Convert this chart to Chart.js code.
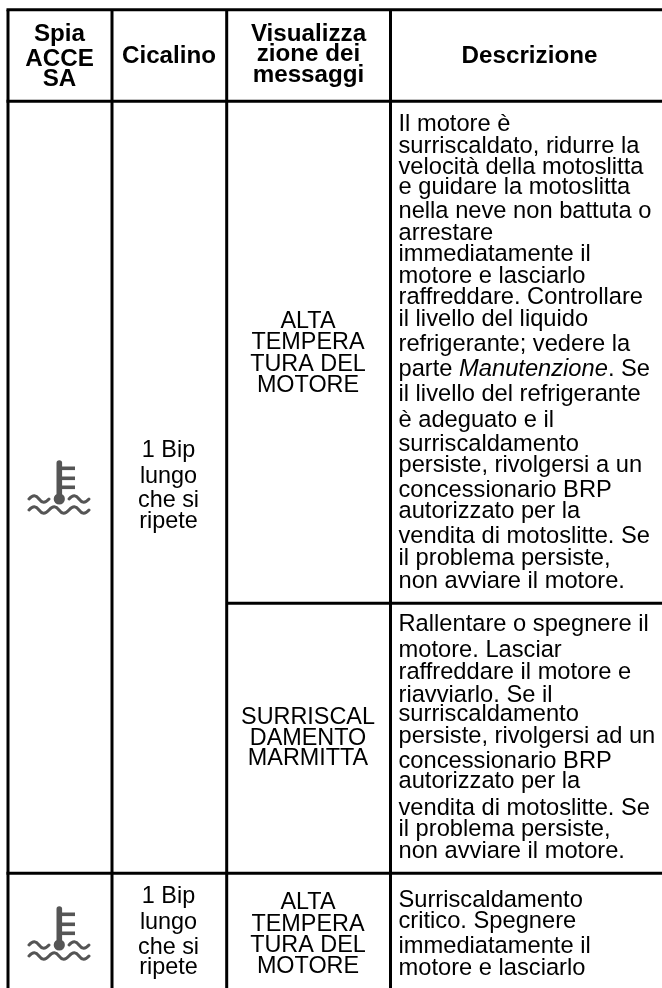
<!DOCTYPE html>
<html>
<head>
<meta charset="utf-8">
<title>Spia</title>
<script src="https://cdn.jsdelivr.net/npm/chart.js@4"></script>
<style>
body { margin: 0; background: #fff; }
canvas { display: block; }
</style>
</head>
<body>
<canvas id="myChart" width="662" height="988"></canvas>
<script>
// table text, one entry per printed line (*...* = italic)
const headSpia = ["Spia", "ACCE", "SA"];
const headCicalino = ["Cicalino"];
const headVisual = ["Visualizza", "zione dei", "messaggi"];
const headDescr = ["Descrizione"];
const bipLines = ["1 Bip", "lungo", "che si", "ripete"];
const altaLines = ["ALTA", "TEMPERA", "TURA DEL", "MOTORE"];
const marmittaLines = ["SURRISCAL", "DAMENTO", "MARMITTA"];
const descAlta = [
    "Il motore è", "surriscaldato, ridurre la", "velocità della motoslitta",
    "e guidare la motoslitta", "nella neve non battuta o", "arrestare",
    "immediatamente il", "motore e lasciarlo", "raffreddare. Controllare",
    "il livello del liquido", "refrigerante; vedere la", "parte *Manutenzione*. Se",
    "il livello del refrigerante", "è adeguato e il", "surriscaldamento",
    "persiste, rivolgersi a un", "concessionario BRP", "autorizzato per la",
    "vendita di motoslitte. Se", "il problema persiste,", "non avviare il motore.",
];
const descMarmitta = [
    "Rallentare o spegnere il", "motore. Lasciar", "raffreddare il motore e",
    "riavviarlo. Se il", "surriscaldamento", "persiste, rivolgersi ad un",
    "concessionario BRP", "autorizzato per la", "vendita di motoslitte. Se",
    "il problema persiste,", "non avviare il motore.",
];
const descCritico = [
    "Surriscaldamento", "critico. Spegnere", "immediatamente il", "motore e lasciarlo",
];

// layout, in picture pixels
const colX = [8, 112, 226.7, 390.5];
const rowY = [9.7, 101.3, 603.3, 873.3];
const pageW = 662;
const pageH = 988;
const descX = 398.5;
const blocks = [
    { lines: headSpia, x: 59.5, bold: true, y: [41, 66, 86] },
    { lines: headCicalino, x: 169, bold: true, y: [63] },
    { lines: headVisual, x: 308.5, bold: true, y: [41, 61, 82] },
    { lines: headDescr, x: 529.5, bold: true, y: [63] },
    { lines: bipLines, x: 168.5, y: [457, 483, 507, 528] },
    { lines: altaLines, x: 308, y: [328, 349, 371, 392] },
    { lines: marmittaLines, x: 308, y: [724, 745, 765] },
    { lines: bipLines, x: 168.5, y: [903, 929, 954, 974] },
    { lines: altaLines, x: 308, y: [909, 931, 952, 973] },
    { lines: descAlta, x: descX, left: true, y: [131, 153, 174, 194, 218, 240, 261, 283, 304, 326, 351, 376, 401, 427, 451, 472, 497, 518, 543, 565, 588] },
    { lines: descMarmitta, x: descX, left: true, y: [631, 657, 679, 702, 721, 743, 768, 788, 815, 836, 858] },
    { lines: descCritico, x: descX, left: true, y: [907, 928, 953, 975] },
];

function thermoIcon() {
    const c = document.createElement("canvas");
    c.width = 66;
    c.height = 56;
    const g = c.getContext("2d");
    g.strokeStyle = g.fillStyle = "#555";
    g.lineCap = "round";
    g.lineWidth = 5.6;
    g.beginPath(); g.moveTo(32.3, 4); g.lineTo(32.3, 38); g.stroke();
    g.lineCap = "butt";
    g.lineWidth = 3.6;
    [9.3, 19.3, 28.3].forEach((y) => {
        g.beginPath(); g.moveTo(32.3, y); g.lineTo(48, y); g.stroke();
    });
    g.beginPath(); g.arc(32.3, 40, 5.6, 0, Math.PI * 2); g.fill();
    g.lineCap = "round";
    g.lineWidth = 3;
    const wave = (x0, n, y) => {
        g.beginPath();
        g.moveTo(x0, y);
        for (let i = 0; i < n; i++) {
            const x = x0 + i * 20;
            g.bezierCurveTo(x + 4, y - 4.5, x + 7, y - 4, x + 10, y);
            g.bezierCurveTo(x + 13, y + 4, x + 16, y + 4.5, x + 20, y);
        }
        g.stroke();
    };
    wave(2, 1, 40);
    wave(42, 1, 40);
    wave(2, 3, 51);
    return c;
}

function rule(x1, y1, x2, y2) {
    return {
        type: "scatter",
        showLine: true,
        data: [{ x: x1, y: y1 }, { x: x2, y: y2 }],
        borderColor: "#000",
        borderWidth: 3,
        pointRadius: 0,
        clip: false,
    };
}

const rules = [
    rule(colX[0] - 1.5, rowY[0], pageW, rowY[0]),
    rule(colX[0] - 1.5, rowY[1], pageW, rowY[1]),
    rule(colX[2], rowY[2], pageW, rowY[2]),
    rule(colX[0] - 1.5, rowY[3], pageW, rowY[3]),
    ...colX.map((x) => rule(x, rowY[0], x, pageH)),
];

const cellText = {
    id: "cellText",
    afterDatasetsDraw(chart) {
        const { ctx, scales } = chart;
        ctx.save();
        ctx.fillStyle = "#000";
        ctx.textBaseline = "alphabetic";
        blocks.forEach((b) => {
            b.lines.forEach((line, i) => {
                const y = scales.y.getPixelForValue(b.y[i]);
                const parts = line.split("*");
                const size = b.left ? 23.7 : 23.4;
                const font = (n) => (b.bold ? "bold 24.2px " : (n % 2 ? "italic " : "") + size + "px ") + "'Liberation Sans'";
                let w = 0;
                parts.forEach((p, n) => {
                    ctx.font = font(n);
                    w += ctx.measureText(p).width;
                });
                let x = scales.x.getPixelForValue(b.x) - (b.left ? 0 : w / 2);
                ctx.textAlign = "left";
                parts.forEach((p, n) => {
                    ctx.font = font(n);
                    ctx.fillText(p, x, y);
                    x += ctx.measureText(p).width;
                });
            });
        });
        ctx.restore();
    },
};

new Chart(document.getElementById("myChart"), {
    type: "scatter",
    data: {
        datasets: [
            ...rules,
            {
                data: [{ x: 60, y: 487 }, { x: 60, y: 933 }],
                pointStyle: thermoIcon(),
                clip: false,
            },
        ],
    },
    options: {
        responsive: false,
        animation: false,
        layout: { padding: 0, autoPadding: false },
        plugins: { legend: { display: false }, tooltip: { enabled: false } },
        scales: {
            x: { type: "linear", display: false, min: 0, max: pageW },
            y: { type: "linear", display: false, min: 0, max: pageH, reverse: true },
        },
    },
    plugins: [cellText],
});
</script>
</body>
</html>
